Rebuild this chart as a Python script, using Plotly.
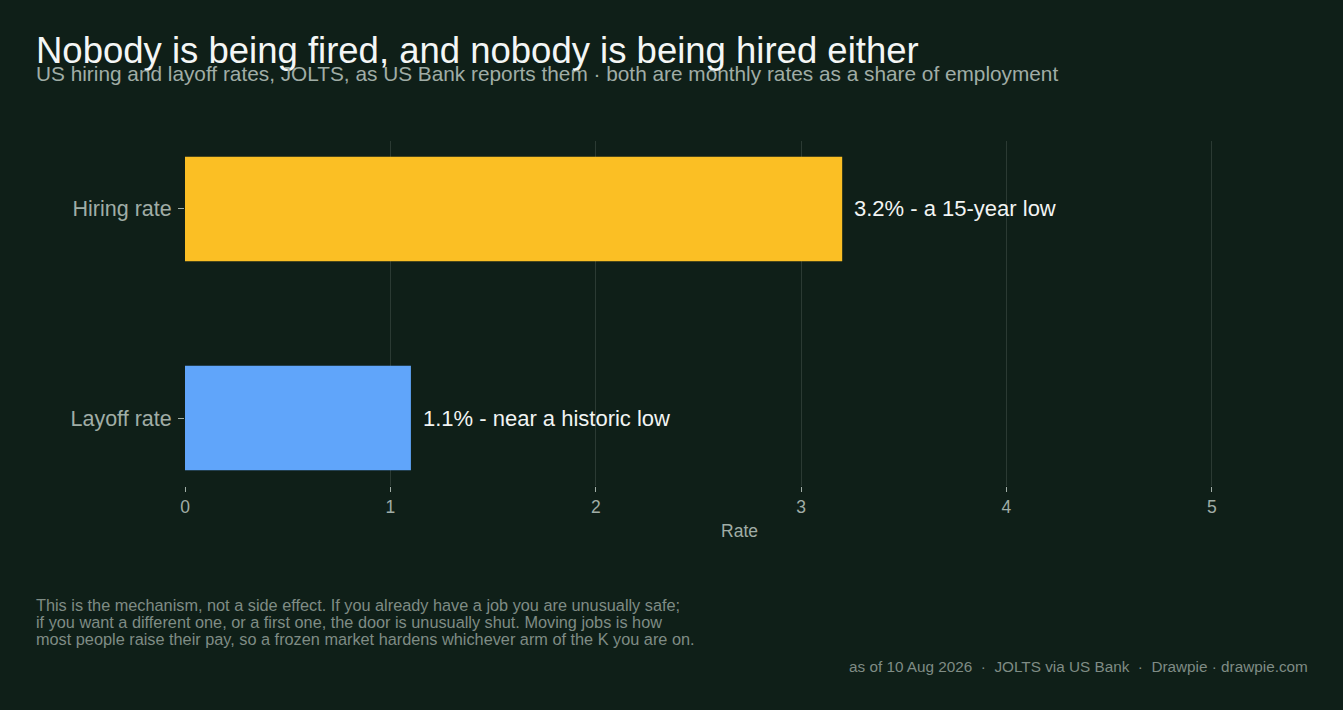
import plotly.graph_objects as go

# data
categories = ["Layoff rate", "Hiring rate"]
rates = [1.1, 3.2]
bar_labels = ["1.1% - near a historic low", "3.2% - a 15-year low"]
bar_colors = ["#60A5FA", "#FBBF24"]
x_ticks = [0, 1, 2, 3, 4, 5]

TITLE = "Nobody is being fired, and nobody is being hired either"
SUBTITLE = "US hiring and layoff rates, JOLTS, as US Bank reports them · both are monthly rates as a share of employment"
NOTE_LINES = [
    "This is the mechanism, not a side effect. If you already have a job you are unusually safe;",
    "if you want a different one, or a first one, the door is unusually shut. Moving jobs is how",
    "most people raise their pay, so a frozen market hardens whichever arm of the K you are on.",
]
SOURCE = "as of 10 Aug 2026  ·  JOLTS via US Bank  ·  Drawpie · drawpie.com"

BG = "#0f1f18"
GRID = "#2b3a33"
MUTED = "#a0ada6"
FAINT = "#7f8c85"
FONT = "Liberation Sans, Arial, sans-serif"

W, H = 1343, 710
ML, MR, MT, MB = 185, 49, 141, 224
PW, PH = W - ML - MR, H - MT - MB


def px_x(px):
    return (px - ML) / PW


def px_y(py):
    return (H - MB - py) / PH


fig = go.Figure()
fig.add_trace(go.Bar(
    y=categories,
    x=rates,
    orientation="h",
    marker=dict(color=bar_colors, line=dict(width=0)),
    width=0.5,
    hovertemplate="%{y}: %{x}%<extra></extra>",
))

# value labels just past each bar end
for cat, val, lab in zip(categories, rates, bar_labels):
    fig.add_annotation(
        x=val, y=cat, text=lab, xanchor="left", yanchor="middle",
        xshift=10, showarrow=False,
        font=dict(size=22, color="#f2f4f3"),
    )

fig.update_layout(
    width=W, height=H,
    paper_bgcolor=BG,
    plot_bgcolor=BG,
    font=dict(family=FONT, color=MUTED),
    margin=dict(l=ML, r=MR, t=MT, b=MB),
    showlegend=False,
    title=dict(
        text=TITLE,
        xref="container", yref="container",
        x=36 / W, xanchor="left",
        y=1 - 50 / H, yanchor="middle",
        font=dict(size=36.5, color="#f4f6f5", family=FONT),
    ),
    xaxis=dict(
        range=[0, 5.4],
        tickvals=x_ticks,
        showgrid=True, gridcolor=GRID, gridwidth=1,
        zeroline=False,
        ticks="outside", ticklen=5, tickcolor=MUTED,
        tickfont=dict(size=17.5, color=MUTED),
        title=dict(text="Rate", font=dict(size=17.5, color=MUTED), standoff=8),
        showline=False,
    ),
    yaxis=dict(
        range=[-0.325, 1.325],
        showgrid=False, zeroline=False,
        ticks="outside", ticklen=6, tickcolor=MUTED,
        ticklabelstandoff=2,
        tickfont=dict(size=21.5, color=MUTED),
        showline=False,
    ),
)

fig.add_annotation(
    text=SUBTITLE,
    xref="paper", yref="paper", x=px_x(34), y=px_y(73),
    xanchor="left", yanchor="middle", showarrow=False,
    font=dict(size=20.8, color=MUTED),
)

for i, line in enumerate(NOTE_LINES):
    fig.add_annotation(
        text=line,
        xref="paper", yref="paper", x=px_x(34), y=px_y(605 + 17 * i),
        xanchor="left", yanchor="middle", align="left", showarrow=False,
        font=dict(size=16.3, color=FAINT),
    )

fig.add_annotation(
    text=SOURCE,
    xref="paper", yref="paper", x=px_x(1310), y=px_y(666),
    xanchor="right", yanchor="middle", showarrow=False,
    font=dict(size=15.3, color=FAINT),
)

fig.write_html(
    "out.html",
    config={"displayModeBar": False},
    post_script="document.body.style.margin='0';",
)
